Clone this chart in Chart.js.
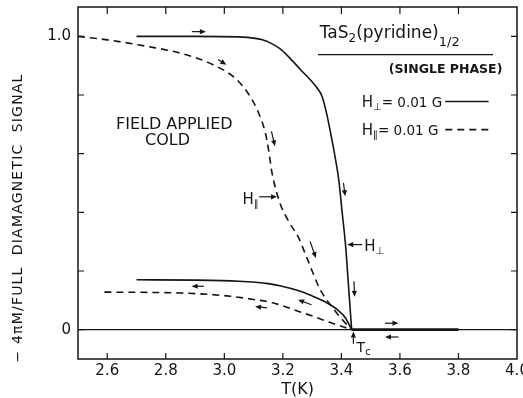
<!DOCTYPE html>
<html><head><meta charset="utf-8">
<script src="https://cdn.jsdelivr.net/npm/chart.js@4"></script>
<style>html,body{margin:0;padding:0;background:#fff}#wrap{width:523px;height:398px}</style>
</head><body><div id="wrap"><canvas id="c" width="523" height="398"></canvas></div>
<script>
// ---- data ----
const xTicks = [2.6, 2.8, 3.0, 3.2, 3.4, 3.6, 3.8, 4.0];
const yTicks = [0, 0.2, 0.4, 0.6, 0.8, 1.0];
const yTickLabels = {0: '0', 1: '1.0'};

// H_perp, field applied cold, warming
const perpWarmT = [2.70, 2.90, 3.05, 3.10, 3.13, 3.16, 3.19, 3.22, 3.26, 3.30, 3.317, 3.334, 3.35, 3.363, 3.38, 3.391, 3.402, 3.414, 3.425, 3.435];
const perpWarmY = [1.000, 1.000, 0.998, 0.994, 0.988, 0.976, 0.958, 0.930, 0.887, 0.845, 0.824, 0.795, 0.735, 0.671, 0.580, 0.511, 0.405, 0.290, 0.140, 0.000];
// H_par, warming
const parWarmT = [2.50, 2.60, 2.734, 2.848, 2.962, 3.043, 3.088, 3.117, 3.14, 3.151, 3.163, 3.178, 3.192, 3.22, 3.254, 3.28, 3.328, 3.374, 3.40, 3.435];
const parWarmY = [1.000, 0.988, 0.966, 0.943, 0.903, 0.852, 0.795, 0.739, 0.671, 0.614, 0.534, 0.471, 0.426, 0.369, 0.313, 0.250, 0.136, 0.070, 0.038, 0.000];
// H_perp, cooling
const perpCoolT = [2.70, 2.90, 3.05, 3.15, 3.19, 3.26, 3.30, 3.34, 3.386, 3.414, 3.435];
const perpCoolY = [0.170, 0.169, 0.165, 0.157, 0.150, 0.131, 0.115, 0.097, 0.068, 0.040, 0.000];
// H_par, cooling
const parCoolT = [2.59, 2.75, 2.85, 2.95, 3.02, 3.10, 3.168, 3.254, 3.305, 3.36, 3.435];
const parCoolY = [0.128, 0.127, 0.125, 0.120, 0.114, 0.103, 0.091, 0.062, 0.045, 0.025, 0.000];
// normal state above Tc
const normalT = [3.435, 3.80];
const normalY = [0, 0];
// zero baseline
const baseT = [2.5, 4.0];
const baseY = [0, 0];

// ---- annotations (data coordinates) ----
const arrows = [
  [2.889, 1.016, 2.937, 1.016],
  [2.979, 0.921, 3.007, 0.903],
  [3.161, 0.676, 3.173, 0.625],
  [3.407, 0.500, 3.413, 0.455],
  [3.293, 0.301, 3.313, 0.244],
  [3.443, 0.165, 3.445, 0.112],
  [2.930, 0.148, 2.888, 0.148],
  [3.146, 0.074, 3.105, 0.079],
  [3.298, 0.085, 3.252, 0.102],
  [3.549, 0.022, 3.595, 0.022],
  [3.595, -0.025, 3.549, -0.025],
  [3.119, 0.453, 3.180, 0.453],
  [3.471, 0.290, 3.420, 0.290],
  [3.441, -0.048, 3.441, -0.006]
];

const FONT = '"DejaVu Sans", sans-serif';
const INK = '#151515';
const pts = (t, y) => t.map((v, i) => ({x: v, y: y[i]}));

function ds(t, y, opts) {
  return Object.assign({data: pts(t, y), borderColor: INK, borderWidth: 1.6, pointRadius: 0,
    fill: false, cubicInterpolationMode: 'monotone'}, opts || {});
}

function rich(ctx, parts, x, y, align) {
  let w = 0;
  parts.forEach(p => { ctx.font = p.s + 'px ' + FONT; p.w = ctx.measureText(p.t).width; w += p.w; });
  let cx = align === 'right' ? x - w : (align === 'center' ? x - w / 2 : x);
  ctx.textAlign = 'left'; ctx.textBaseline = 'alphabetic';
  parts.forEach(p => { ctx.font = p.s + 'px ' + FONT; ctx.fillText(p.t, cx, y + (p.dy || 0)); cx += p.w; });
}

const decor = {
  id: 'decor',
  afterDatasetsDraw(chart) {
    const {ctx, chartArea: a} = chart;
    const X = v => chart.scales.x.getPixelForValue(v);
    const Y = v => chart.scales.y.getPixelForValue(v);
    ctx.save();
    ctx.strokeStyle = INK; ctx.fillStyle = INK;
    // frame
    ctx.lineWidth = 1.5;
    ctx.strokeRect(a.left, a.top, a.right - a.left, a.bottom - a.top);
    // inward ticks
    ctx.lineWidth = 1.2;
    ctx.beginPath();
    xTicks.forEach(t => { if (t >= 4.0) return; const px = X(t);
      ctx.moveTo(px, a.top); ctx.lineTo(px, a.top + 7);
      ctx.moveTo(px, a.bottom); ctx.lineTo(px, a.bottom - 6); });
    yTicks.forEach(t => { const py = Y(t);
      ctx.moveTo(a.left, py); ctx.lineTo(a.left + 6, py);
      ctx.moveTo(a.right, py); ctx.lineTo(a.right - 6, py); });
    ctx.stroke();
    // arrows
    arrows.forEach(([x1, y1, x2, y2]) => {
      const p1 = [X(x1), Y(y1)], p2 = [X(x2), Y(y2)];
      const ang = Math.atan2(p2[1] - p1[1], p2[0] - p1[0]);
      const L = 6, H = 2.6;
      ctx.lineWidth = 1.2;
      ctx.beginPath(); ctx.moveTo(p1[0], p1[1]);
      ctx.lineTo(p2[0] - Math.cos(ang) * L * 0.6, p2[1] - Math.sin(ang) * L * 0.6); ctx.stroke();
      ctx.beginPath(); ctx.moveTo(p2[0], p2[1]);
      ctx.lineTo(p2[0] - Math.cos(ang) * L + Math.sin(ang) * H, p2[1] - Math.sin(ang) * L - Math.cos(ang) * H);
      ctx.lineTo(p2[0] - Math.cos(ang) * L - Math.sin(ang) * H, p2[1] - Math.sin(ang) * L + Math.cos(ang) * H);
      ctx.closePath(); ctx.fill();
    });
    // texts
    ctx.textAlign = 'center'; ctx.textBaseline = 'middle';
    ctx.font = '16px ' + FONT;
    ctx.fillText('FIELD APPLIED', X(2.829), Y(0.699));
    ctx.fillText('COLD', X(2.806), Y(0.644));
    // title
    rich(ctx, [{t: 'TaS', s: 17}, {t: '2', s: 12, dy: 4}, {t: '(pyridine)', s: 17}, {t: '1/2', s: 13, dy: 8}], X(3.326), Y(0.9956), 'left');
    ctx.lineWidth = 1.3;
    ctx.beginPath(); ctx.moveTo(X(3.320), Y(0.9376)); ctx.lineTo(X(3.918), Y(0.9376)); ctx.stroke();
    ctx.font = 'bold 12.5px ' + FONT; ctx.textAlign = 'right'; ctx.textBaseline = 'middle';
    ctx.fillText('(SINGLE PHASE)', X(3.95), Y(0.886));
    // legend
    const lx = 3.4695;
    rich(ctx, [{t: 'H', s: 15}, {t: '⊥', s: 10, dy: 3}, {t: '= 0.01 G', s: 13.5}], X(lx), Y(0.778) + 5.5, 'left');
    rich(ctx, [{t: 'H', s: 15}, {t: '∥', s: 10, dy: 3}, {t: '= 0.01 G', s: 13.5}], X(lx), Y(0.682) + 5.5, 'left');
    ctx.lineWidth = 1.6;
    ctx.beginPath(); ctx.moveTo(X(3.755), Y(0.778)); ctx.lineTo(X(3.903), Y(0.778)); ctx.stroke();
    ctx.setLineDash([7, 5]);
    ctx.beginPath(); ctx.moveTo(X(3.755), Y(0.682)); ctx.lineTo(X(3.903), Y(0.682)); ctx.stroke();
    ctx.setLineDash([]);
    // curve labels
    rich(ctx, [{t: 'H', s: 15}, {t: '∥', s: 10, dy: 3}], X(3.118), Y(0.447) + 5.5, 'right');
    rich(ctx, [{t: 'H', s: 15}, {t: '⊥', s: 10, dy: 3}], X(3.478), Y(0.286) + 5.5, 'left');
    rich(ctx, [{t: 'T', s: 14}, {t: 'c', s: 10, dy: 3}], X(3.452), Y(-0.058) + 5, 'left');
    // y title
    ctx.save();
    ctx.translate(18, 218); ctx.rotate(-Math.PI / 2);
    ctx.font = '14px ' + FONT; ctx.textAlign = 'center'; ctx.textBaseline = 'middle';
    const yt = '− 4πM/FULL  DIAMAGNETIC  SIGNAL';
    const w0 = ctx.measureText(yt).width;
    ctx.letterSpacing = Math.max(0, (288 - w0) / (yt.length - 1)).toFixed(2) + 'px';
    ctx.fillText(yt, 0, 0);
    ctx.restore();
    ctx.restore();
  }
};

new Chart(document.getElementById('c'), {
  type: 'line',
  data: {
    datasets: [
      ds(baseT, baseY, {borderWidth: 1.2, cubicInterpolationMode: 'default'}),
      ds(normalT, normalY, {borderWidth: 2.6, cubicInterpolationMode: 'default'}),
      ds(perpWarmT, perpWarmY),
      ds(parWarmT, parWarmY, {borderDash: [7, 5]}),
      ds(perpCoolT, perpCoolY),
      ds(parCoolT, parCoolY, {borderDash: [7, 5]})
    ]
  },
  options: {
    responsive: false, animation: false, events: [],
    layout: {padding: {top: 7, right: 6, left: 0, bottom: 0}},
    plugins: {legend: {display: false}, tooltip: {enabled: false}},
    scales: {
      x: {
        type: 'linear', min: 2.5, max: 4.0,
        afterBuildTicks: s => { s.ticks = xTicks.map(v => ({value: v})); },
        afterFit: s => { s.height = 39; s.paddingLeft = 0; s.paddingRight = 0; },
        grid: {display: false, drawTicks: false},
        border: {display: false},
        ticks: {color: INK, font: {family: FONT, size: 15}, padding: 3, maxRotation: 0, autoSkip: false,
          callback: v => Number(v).toFixed(1)},
        title: {display: true, text: 'T(K)', color: INK, font: {family: FONT, size: 16, lineHeight: 1}, padding: 0}
      },
      y: {
        type: 'linear', min: -0.1, max: 1.1,
        afterBuildTicks: s => { s.ticks = yTicks.map(v => ({value: v})); },
        afterFit: s => { s.width = 78; s.paddingTop = 0; s.paddingBottom = 0; },
        grid: {display: false, drawTicks: false},
        border: {display: false},
        ticks: {color: INK, font: {family: FONT, size: 15}, padding: 7, autoSkip: false,
          callback: v => yTickLabels[Math.round(v * 10) / 10] || ''}
      }
    }
  },
  plugins: [decor]
});
</script>
</body></html>
